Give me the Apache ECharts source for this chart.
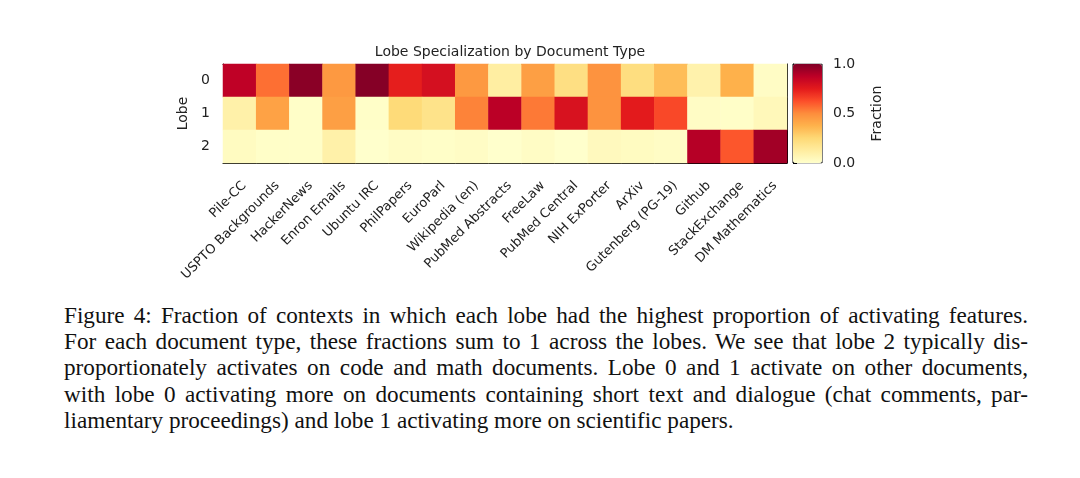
<!DOCTYPE html>
<html>
<head>
<meta charset="utf-8">
<script src="https://cdn.jsdelivr.net/npm/echarts@6/dist/echarts.min.js"></script>
<style>
  body { margin: 0; background: #fff; }
  #chart { position: absolute; left: 0; top: 0; width: 1080px; height: 300px; }
  #caption {
    position: absolute; left: 64px; top: 302px; width: 964px;
    font-family: "Liberation Serif", serif; font-size: 23.2px; line-height: 26.2px;
    color: #111;
  }
  #caption div { white-space: nowrap; text-align: justify; text-align-last: justify; }
  #caption div.last { text-align-last: left; }
</style>
</head>
<body>
<div id="chart"></div>
<div id="caption">
<div>Figure 4: Fraction of contexts in which each lobe had the highest proportion of activating features.</div>
<div>For each document type, these fractions sum to 1 across the lobes. We see that lobe 2 typically dis-</div>
<div>proportionately activates on code and math documents. Lobe 0 and 1 activate on other documents,</div>
<div>with lobe 0 activating more on documents containing short text and dialogue (chat comments, par-</div>
<div class="last">liamentary proceedings) and lobe 1 activating more on scientific papers.</div>
</div>
<script>
    var docTypes = ['Pile-CC', 'USPTO Backgrounds', 'HackerNews', 'Enron Emails', 'Ubuntu IRC',
        'PhilPapers', 'EuroParl', 'Wikipedia (en)', 'PubMed Abstracts', 'FreeLaw', 'PubMed Central',
        'NIH ExPorter', 'ArXiv', 'Gutenberg (PG-19)', 'Github', 'StackExchange', 'DM Mathematics'];
    var lobes = ['0', '1', '2'];
    // fraction per document type, one array per lobe
    var lobe0 = [0.87, 0.56, 0.98, 0.46, 0.99, 0.74, 0.80, 0.46, 0.12, 0.44, 0.21, 0.48, 0.22, 0.34, 0.09, 0.38, 0.02];
    var lobe1 = [0.10, 0.43, 0.01, 0.44, 0.01, 0.24, 0.19, 0.52, 0.88, 0.54, 0.79, 0.48, 0.75, 0.64, 0.02, 0.01, 0.05];
    var lobe2 = [0.03, 0.01, 0.01, 0.10, 0.00, 0.02, 0.01, 0.02, 0.00, 0.02, 0.00, 0.04, 0.03, 0.02, 0.89, 0.61, 0.93];

    var ylorrd = ['#ffffcc', '#ffeda0', '#fed976', '#feb24c', '#fd8d3c', '#fc4e2a', '#e31a1c', '#bd0026', '#800026'];
    var font = 'DejaVu Sans';

    var rows = [lobe0, lobe1, lobe2];
    var data = [];
    for (var r = 0; r < rows.length; r++) {
        for (var c = 0; c < docTypes.length; c++) {
            data.push([c, r, rows[r][c]]);
        }
    }

    var myChart = echarts.init(document.getElementById('chart'));

    var option = {
        animation: false,
        title: {
            text: 'Lobe Specialization by Document Type',
            left: 505, top: 40, textAlign: 'center',
            textStyle: { fontFamily: font, fontSize: 14, fontWeight: 'normal', color: '#222' }
        },
        grid: [
            { left: 223, top: 64, width: 564, height: 99 },
            { left: 793, top: 64, width: 29, height: 99 }
        ],
        visualMap: {
            type: 'continuous', min: 0, max: 1, seriesIndex: 0,
            left: 793, top: 64, itemWidth: 29, itemHeight: 99,
            padding: 0, calculable: false, text: null, hoverLink: false,
            inRange: { color: ylorrd }
        },
        xAxis: [
            {
                type: 'category', data: docTypes, gridIndex: 0,
                axisLine: { lineStyle: { color: '#000' } },
                axisTick: { alignWithLabel: true, length: 4, lineStyle: { color: '#000' } },
                axisLabel: {
                    rotate: 45, interval: 0, margin: 16, verticalAlign: 'top',
                    fontFamily: font, fontSize: 13, color: '#222'
                },
                splitLine: { show: false }
            },
            {
                type: 'category', data: docTypes, gridIndex: 0, position: 'top',
                axisLine: { lineStyle: { color: '#000' } },
                axisTick: { show: false }, axisLabel: { show: false }
            },
            { type: 'value', gridIndex: 1, min: 0, max: 1, show: false }
        ],
        yAxis: [
            {
                type: 'category', data: lobes, gridIndex: 0, inverse: true,
                name: 'Lobe', nameLocation: 'middle', nameRotate: 90, nameGap: 29,
                nameTextStyle: { fontFamily: font, fontSize: 14, color: '#222' },
                axisLine: { lineStyle: { color: '#000' } },
                axisTick: { alignWithLabel: true, length: 4, lineStyle: { color: '#000' } },
                axisLabel: { margin: 13, fontFamily: font, fontSize: 14, color: '#222' }
            },
            {
                type: 'category', data: lobes, gridIndex: 0, position: 'right', inverse: true,
                axisLine: { lineStyle: { color: '#000' } },
                axisTick: { show: false }, axisLabel: { show: false }
            },
            {
                type: 'value', gridIndex: 1, position: 'right', min: 0, max: 1, interval: 0.5,
                name: 'Fraction', nameLocation: 'middle', nameRotate: 90, nameGap: 48,
                nameTextStyle: { fontFamily: font, fontSize: 14, color: '#222' },
                axisLine: { show: true, lineStyle: { color: '#000' } },
                axisTick: { show: true, length: 4, lineStyle: { color: '#000' } },
                axisLabel: {
                    margin: 11, fontFamily: font, fontSize: 14, color: '#222',
                    formatter: function (v) { return v.toFixed(1); }
                },
                splitLine: { show: false }
            }
        ],
        series: [
            {
                type: 'heatmap', xAxisIndex: 0, yAxisIndex: 0, data: data,
                emphasis: { disabled: true }
            },
            {
                // border around the colour bar
                type: 'line', xAxisIndex: 2, yAxisIndex: 2, symbol: 'none', silent: true,
                lineStyle: { color: '#000', width: 1 },
                data: [[0, 0], [1, 0], [1, 1], [0, 1], [0, 0]]
            }
        ]
    };
    myChart.setOption(option);
</script>
</body>
</html>
